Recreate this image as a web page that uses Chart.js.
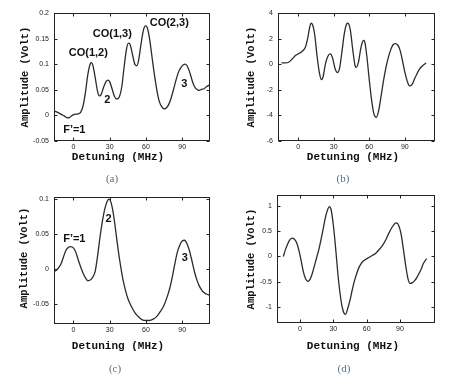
<!DOCTYPE html>
<html>
<head>
<meta charset="utf-8">
<script src="https://cdn.jsdelivr.net/npm/chart.js@4.4.1/dist/chart.umd.min.js"></script>
<style>
html,body{margin:0;padding:0;background:#fff;}
#wrap{position:relative;width:452px;height:389px;background:#fff;overflow:hidden;}
#wrap canvas{position:absolute;left:0;top:0;}
</style>
</head>
<body>
<div id="wrap">
<canvas id="ca" width="452" height="389"></canvas>
<canvas id="cb" width="452" height="389"></canvas>
<canvas id="cc" width="452" height="389"></canvas>
<canvas id="cd" width="452" height="389"></canvas>
</div>
<script>
// ---------- data ----------
const xTickLabels = [0, 30, 60, 90];

// (a)
const aX = [-16,-13,-10,-7,-5,-3,-1,1,4,6, 8,10,12,14,15,16,18,20,21.5,23, 25,27,28.5,30,32,34,36,38,40,42, 44,45.5,47,49,51,52.5,54,56,58,59.5, 61,63,65,67,69,71,73,75,77,79, 81,83,85,87,89,91,92.5,94,96,98, 100,102,104,106,108,110,113];
const aY = [0.009,0.006,0.002,-0.002,-0.005,-0.004,0.000,0.002,0.003,0.006, 0.018,0.045,0.080,0.101,0.103,0.099,0.075,0.047,0.038,0.041, 0.055,0.066,0.069,0.066,0.052,0.037,0.032,0.036,0.055,0.095, 0.130,0.141,0.138,0.118,0.099,0.097,0.108,0.140,0.167,0.175, 0.172,0.150,0.115,0.080,0.050,0.028,0.017,0.013,0.015,0.022, 0.035,0.052,0.070,0.085,0.094,0.099,0.100,0.097,0.086,0.070, 0.057,0.051,0.049,0.051,0.052,0.056,0.060];
const aYTicks = [-0.05, 0, 0.05, 0.1, 0.15, 0.2];
const aNotes = [
  {text:'CO(1,2)', x:12.4, y:0.122},
  {text:'CO(1,3)', x:32.2, y:0.159},
  {text:'CO(2,3)', x:79.3, y:0.180},
  {text:'2', x:28.1, y:0.030},
  {text:'3', x:91.7, y:0.061},
  {text:'F\u2019=1', x:0.8, y:-0.029}
];

// (b)
const bX = [-14,-11,-8,-5,-2,1,4,6,8,10, 11,12.5,14,16,18,19.5,21,23,25,27, 29,31,33,35,37,39,41,42,44,46, 48,49,51,53,55,56,58,60,62,64, 66,68,70,72,74,76,78,80,82,84, 86,88,90,92,94,96,98,100,102,104, 106,108];
const bY = [0.1,0.1,0.15,0.4,0.7,0.85,1.05,1.3,2.0,3.0, 3.2,3.0,2.3,0.6,-0.7,-1.2,-1.0,0.0,0.6,0.8, 0.5,-0.3,-0.65,-0.3,1.0,2.4,3.15,3.2,2.7,1.2, -0.1,-0.25,0.2,1.3,1.85,1.8,0.6,-1.2,-2.8,-3.9, -4.15,-3.6,-2.5,-1.3,-0.3,0.5,1.1,1.5,1.6,1.5, 1.1,0.3,-0.6,-1.3,-1.7,-1.6,-1.2,-0.8,-0.45,-0.2, -0.05,0.1];
const bYTicks = [-6, -4, -2, 0, 2, 4];

// (c)
const cX = [-16,-14,-12,-10,-8,-6,-4,-2,0,2, 4,6,8,10,12,14,16,18,20,22, 24,26,28,29.5,31,33,35,37,39,41, 43,45,48,51,54,57,60,63,66,69, 72,75,78,80,82,84,86,88,90,92, 94,96,98,100,102,104,106,108,110,113];
const cY = [-0.004,-0.002,0.002,0.008,0.018,0.027,0.031,0.032,0.030,0.024, 0.013,0.003,-0.006,-0.013,-0.017,-0.016,-0.012,-0.004,0.018,0.045, 0.068,0.086,0.097,0.100,0.096,0.080,0.055,0.028,0.005,-0.015, -0.030,-0.042,-0.054,-0.063,-0.069,-0.073,-0.074,-0.074,-0.072,-0.068, -0.061,-0.052,-0.038,-0.026,-0.010,0.008,0.024,0.034,0.040,0.041, 0.036,0.026,0.012,-0.003,-0.015,-0.024,-0.030,-0.034,-0.036,-0.038];
const cYTicks = [-0.05, 0, 0.05, 0.1];
const cNotes = [
  {text:'F\u2019=1', x:0.8, y:0.043},
  {text:'2', x:29.2, y:0.071},
  {text:'3', x:92.2, y:0.016}
];

// (d)
const dX = [-15,-13,-11,-9,-7,-5,-3,-1,1,3, 5,7,9,11,13,15,17,19,21,23, 25,26.5,28,30,32,34,36,38,40,41, 43,45,47,49,51,53,55,57,59,62, 65,68,71,74,77,80,83,85,87,89, 91,93,95,97,99,101,103,105,107,109, 111,114];
const dY = [0.0,0.14,0.25,0.33,0.36,0.34,0.27,0.12,-0.08,-0.30, -0.44,-0.49,-0.45,-0.34,-0.18,-0.02,0.14,0.34,0.56,0.78, 0.93,0.98,0.92,0.62,0.18,-0.32,-0.72,-1.0,-1.13,-1.14, -1.02,-0.86,-0.66,-0.48,-0.34,-0.22,-0.14,-0.09,-0.06,-0.02, 0.02,0.06,0.13,0.21,0.32,0.46,0.58,0.64,0.66,0.60, 0.44,0.15,-0.16,-0.42,-0.53,-0.52,-0.48,-0.42,-0.34,-0.25, -0.14,-0.04];
const dYTicks = [-1, -0.5, 0, 0.5, 1];

const xTitle = 'Detuning (MHz)';
const yTitle = 'Amplitude (Volt)';

// ---------- drawing ----------
const deco = {
  id: 'deco',
  afterDraw(chart, args, o) {
    const ctx = chart.ctx, a = chart.chartArea, xs = chart.scales.x, ys = chart.scales.y;
    ctx.save();
    ctx.strokeStyle = '#222';
    ctx.lineWidth = 1;
    const L = Math.round(a.left) + 0.5, T = Math.round(a.top) + 0.5,
          R = Math.round(a.right) - 0.5, B = Math.round(a.bottom) - 0.5;
    ctx.strokeRect(L, T, R - L, B - T);
    ctx.beginPath();
    xs.ticks.forEach(t => {
      const p = Math.round(xs.getPixelForValue(t.value)) + 0.5;
      ctx.moveTo(p, B); ctx.lineTo(p, B - 3);
      ctx.moveTo(p, T); ctx.lineTo(p, T + 3);
    });
    ys.ticks.forEach(t => {
      const p = Math.round(ys.getPixelForValue(t.value)) + 0.5;
      ctx.moveTo(L, p); ctx.lineTo(L + 3, p);
      ctx.moveTo(R, p); ctx.lineTo(R - 3, p);
    });
    ctx.stroke();

    ctx.fillStyle = '#111';
    ctx.textAlign = 'center';
    ctx.textBaseline = 'middle';
    ctx.font = 'bold 11px "Liberation Sans", Arial, sans-serif';
    (o.notes || []).forEach(n => {
      ctx.fillText(n.text, xs.getPixelForValue(n.x), ys.getPixelForValue(n.y));
    });

    ctx.font = 'bold 11px "Liberation Mono", "Courier New", monospace';
    ctx.fillText(xTitle, o.xt[0], o.xt[1]);
    ctx.save();
    ctx.translate(o.yt[0], o.yt[1]);
    ctx.rotate(-Math.PI / 2);
    ctx.font = 'bold 10.5px "Liberation Mono", "Courier New", monospace';
    ctx.fillText(yTitle, 0, 0);
    ctx.restore();

    ctx.fillStyle = '#5b6f80';
    ctx.font = '11px "Liberation Serif", "Times New Roman", serif';
    ctx.fillText(o.cap, o.ct[0], o.ct[1]);
    ctx.restore();
  }
};

function makeChart(id, xs, ys, area, xr, yr, yTicks, deco_opts) {
  const pts = xs.map((v, i) => ({x: v, y: ys[i]}));
  const Y_W = 30, X_H = 20;
  return new Chart(document.getElementById(id), {
    type: 'line',
    data: { datasets: [{
      data: pts,
      borderColor: '#2b2b2b',
      borderWidth: 1.3,
      pointRadius: 0,
      fill: false,
      cubicInterpolationMode: 'monotone'
    }]},
    options: {
      responsive: false,
      animation: false,
      devicePixelRatio: 1,
      layout: { padding: {
        left: area[0] - Y_W, top: area[1],
        right: 452 - area[2], bottom: 389 - area[3] - X_H } },
      plugins: { legend: {display: false}, tooltip: {enabled: false}, deco: deco_opts },
      scales: {
        x: {
          type: 'linear', min: xr[0], max: xr[1],
          grid: {display: false, drawTicks: false},
          border: {display: false},
          afterBuildTicks: s => { s.ticks = xTickLabels.map(v => ({value: v})); },
          afterFit: s => { s.height = X_H; },
          ticks: { padding: 2, color: '#222', maxRotation: 0,
                   font: {family: '"Liberation Sans", Arial, sans-serif', size: 7},
                   callback: v => String(v) }
        },
        y: {
          type: 'linear', min: yr[0], max: yr[1],
          grid: {display: false, drawTicks: false},
          border: {display: false},
          afterBuildTicks: s => { s.ticks = yTicks.map(v => ({value: v})); },
          afterFit: s => { s.width = Y_W; },
          ticks: { padding: 5, color: '#222',
                   font: {family: '"Liberation Sans", Arial, sans-serif', size: 7},
                   callback: v => String(v) }
        }
      }
    },
    plugins: [deco]
  });
}

makeChart('ca', aX, aY, [54, 13, 210, 141], [-16, 113], [-0.05, 0.2], aYTicks,
  {notes: aNotes, xt: [118, 157], yt: [25, 77], cap: '(a)', ct: [112, 179]});
makeChart('cb', bX, bY, [278, 13, 435, 141], [-17, 115.5], [-6, 4], bYTicks,
  {notes: [], xt: [353, 157], yt: [251, 77], cap: '(b)', ct: [343, 179]});
makeChart('cc', cX, cY, [54, 197, 210, 324], [-16, 113], [-0.079, 0.103], cYTicks,
  {notes: cNotes, xt: [118, 346], yt: [24, 258], cap: '(c)', ct: [115, 369]});
makeChart('cd', dX, dY, [277, 195, 435, 323], [-20.7, 121.5], [-1.31, 1.21], dYTicks,
  {notes: [], xt: [353, 346], yt: [251, 259], cap: '(d)', ct: [344, 369]});
</script>
</body>
</html>
